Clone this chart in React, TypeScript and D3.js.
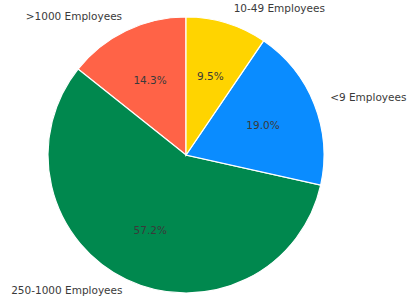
import React, { useEffect, useRef } from 'react';
import * as d3 from 'd3';

const WIDTH = 409;
const HEIGHT = 300;
const CX = 186;
const CY = 155;
const R = 138;

const labels = ['>1000 Employees', '250-1000 Employees', '<9 Employees', '10-49 Employees'];
const shares = [14.3, 57.2, 19.0, 9.5];
const colors = ['#ff6347', '#00884e', '#0a8cff', '#ffd400'];

const App = () => {
  const svgRef = useRef<SVGSVGElement>(null);

  useEffect(() => {
    const svg = d3.select(svgRef.current);
    svg.selectAll('*').remove();

    const data = labels.map((label, i) => ({ label, value: shares[i], color: colors[i] }));

    // matplotlib style: start at the top, go counter-clockwise
    const pie = d3
      .pie<any>()
      .value((d) => d.value)
      .sort(null)
      .startAngle(0)
      .endAngle(-2 * Math.PI);

    const arcs = pie(data);
    const arc = d3.arc<any>().innerRadius(0).outerRadius(R);
    const pctArc = d3.arc<any>().innerRadius(R * 0.6).outerRadius(R * 0.6);
    const labelArc = d3.arc<any>().innerRadius(R * 1.1).outerRadius(R * 1.1);

    const g = svg.append('g').attr('transform', `translate(${CX},${CY})`);

    g.selectAll('path')
      .data(arcs)
      .join('path')
      .attr('d', arc)
      .attr('fill', (d) => d.data.color)
      .attr('stroke', '#fff')
      .attr('stroke-width', 1.2);

    g.selectAll('text.pct')
      .data(arcs)
      .join('text')
      .attr('class', 'pct')
      .attr('x', (d) => pctArc.centroid(d)[0])
      .attr('y', (d) => pctArc.centroid(d)[1])
      .attr('text-anchor', 'middle')
      .attr('dominant-baseline', 'central')
      .attr('font-family', 'DejaVu Sans')
      .attr('font-size', 10.5)
      .attr('fill', '#3a3a3a')
      .text((d) => d.data.value.toFixed(1) + '%');

    g.selectAll('text.lbl')
      .data(arcs)
      .join('text')
      .attr('class', 'lbl')
      .attr('x', (d) => labelArc.centroid(d)[0] + (labelArc.centroid(d)[0] < 0 ? 2 : 3))
      .attr('y', (d) => labelArc.centroid(d)[1] - 2)
      .attr('text-anchor', (d) => (labelArc.centroid(d)[0] < 0 ? 'end' : 'start'))
      .attr('dominant-baseline', 'central')
      .attr('font-family', 'DejaVu Sans')
      .attr('font-size', 10.5)
      .attr('fill', '#3a3a3a')
      .text((d) => d.data.label);
  }, []);

  return (
    <svg
      ref={svgRef}
      width={WIDTH}
      height={HEIGHT}
      style={{ position: 'absolute', left: 0, top: 0, background: '#fff' }}
    />
  );
};

export default App;
